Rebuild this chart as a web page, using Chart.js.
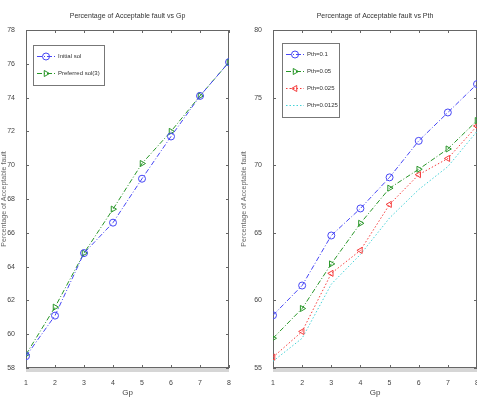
<!DOCTYPE html>
<html lang="en">
<head>
  <meta charset="UTF-8">
  <title>Percentage of Acceptable fault</title>
  <script src="https://cdn.jsdelivr.net/npm/chart.js@4"></script>
  <style>
    body { margin: 0; background: #fff; }
    .panel { position: absolute; top: 0; overflow: hidden; height: 406px; }
  </style>
</head>
<body>

<div class="panel" style="left:0; width:240px"><canvas id="gpChart" width="240" height="406"></canvas></div>
<div class="panel" style="left:240px; width:237px"><canvas id="pthChart" width="242" height="406"></canvas></div>

<script>
  // x positions (Gp) shared by both panels
  const gpValues = [1, 2, 3, 4, 5, 6, 7, 8];

  // left panel: acceptable fault vs Gp
  const initialSol = [58.7, 61.1, 64.8, 66.6, 69.2, 71.7, 74.1, 76.1];
  const preferredSol = [58.8, 61.6, 64.8, 67.4, 70.1, 72.0, 74.1, 76.1];

  // right panel: acceptable fault vs Pth
  const pth01 = [58.9, 61.1, 64.8, 66.8, 69.1, 71.8, 73.9, 76.0];
  const pth005 = [57.2, 59.4, 62.7, 65.7, 68.3, 69.7, 71.2, 73.3];
  const pth0025 = [55.8, 57.7, 62.0, 63.7, 67.1, 69.3, 70.5, 72.9];
  const pth00125 = [55.5, 57.2, 61.2, 63.4, 66.1, 68.2, 69.9, 72.5];

  const leftLabels = ['Initial sol', 'Preferred sol(3)'];
  const rightLabels = ['Pth=0.1', 'Pth=0.05', 'Pth=0.025', 'Pth=0.0125'];

  const FONT = 'Liberation Sans, Arial, sans-serif';

  function pts(ys) {
    return gpValues.map((x, i) => ({ x: x, y: ys[i] }));
  }

  const dashDot = [5, 2, 1, 2];
  const dotted = [1.5, 2];

  const styles = {
    blue:  { color: 'rgb(70,70,245)', dash: dashDot, pointStyle: 'circle', rot: 0, r: 3.5 },
    green: { color: 'rgb(40,150,40)', dash: dashDot, pointStyle: 'triangle', rot: 90, r: 3.5 },
    red:   { color: 'rgb(245,60,60)', dash: dotted, pointStyle: 'triangle', rot: -90, r: 3.5 },
    cyan:  { color: 'rgb(70,210,215)', dash: dotted, pointStyle: 'circle', rot: 0, r: 0 }
  };

  function makeSet(label, ys, st) {
    return {
      label: label,
      data: pts(ys),
      borderColor: st.color,
      backgroundColor: 'rgba(0,0,0,0)',
      borderWidth: 1,
      borderDash: st.dash,
      pointStyle: st.pointStyle,
      pointRotation: st.rot,
      pointRadius: st.r,
      pointBorderWidth: 1,
      pointBorderColor: st.color,
      pointBackgroundColor: 'rgba(0,0,0,0)',
      tension: 0
    };
  }

  // MATLAB-like box with inward ticks, gray strip under x axis, title, legend box
  const matlabBox = {
    id: 'matlabBox',
    beforeDatasetsDraw(chart) {
      const c = chart.ctx, a = chart.chartArea;
      c.save();
      c.fillStyle = '#d6d6d6';
      c.fillRect(a.left, a.bottom - 1, a.right - a.left, 5);
      c.strokeStyle = '#666';
      c.lineWidth = 1;
      c.strokeRect(a.left + 0.5, a.top + 0.5, a.right - a.left - 1, a.bottom - a.top - 1);
      const xs = chart.scales.x, ys = chart.scales.y;
      c.beginPath();
      xs.ticks.forEach(t => {
        const px = Math.round(xs.getPixelForValue(t.value)) + 0.5;
        c.moveTo(px, a.top); c.lineTo(px, a.top + 3);
        c.moveTo(px, a.bottom); c.lineTo(px, a.bottom - 3);
      });
      ys.ticks.forEach(t => {
        const py = Math.round(ys.getPixelForValue(t.value)) + 0.5;
        c.moveTo(a.left, py); c.lineTo(a.left + 3, py);
        c.moveTo(a.right, py); c.lineTo(a.right - 3, py);
      });
      c.stroke();
      c.restore();
    },
    afterDraw(chart, args, opts) {
      const c = chart.ctx, a = chart.chartArea;
      c.save();
      c.fillStyle = '#333';
      c.font = '7px ' + FONT;
      c.textAlign = 'center';
      c.textBaseline = 'middle';
      c.fillText(opts.title, (a.left + a.right) / 2, 16);

      // legend
      const lx = a.left + opts.lx, ly = a.top + opts.ly;
      const rowH = opts.rowH, w = opts.w;
      const h = rowH * chart.data.datasets.length + 6;
      c.fillStyle = '#fff';
      c.fillRect(lx, ly, w, h);
      c.strokeStyle = '#777';
      c.lineWidth = 1;
      c.strokeRect(lx + 0.5, ly + 0.5, w, h);
      chart.data.datasets.forEach((ds, i) => {
        const yy = ly + 3 + rowH * i + rowH / 2;
        c.strokeStyle = ds.borderColor;
        c.lineWidth = 1;
        c.setLineDash(ds.borderDash);
        c.beginPath();
        c.moveTo(lx + 4, yy); c.lineTo(lx + 22, yy);
        c.stroke();
        c.setLineDash([]);
        if (ds.pointRadius > 0) {
          c.fillStyle = 'rgba(0,0,0,0)';
          Chart.helpers.drawPoint(c, {
            pointStyle: ds.pointStyle, rotation: ds.pointRotation,
            radius: ds.pointRadius, borderWidth: 1
          }, lx + 13, yy);
        }
        c.fillStyle = '#333';
        c.textAlign = 'left';
        c.font = '6px ' + FONT;
        c.fillText(ds.label, lx + 25, yy);
      });
      c.restore();
    }
  };

  function makeChart(id, sets, yMin, yMax, yStep, yWidth, padRight, box) {
    const ctx = document.getElementById(id).getContext('2d');
    return new Chart(ctx, {
      type: 'line',
      data: { datasets: sets },
      options: {
        responsive: false,
        animation: false,
        events: [],
        layout: { padding: { top: 30, right: padRight, left: 0, bottom: 0 } },
        plugins: {
          legend: { display: false },
          tooltip: { enabled: false },
          matlabBox: box
        },
        scales: {
          x: {
            type: 'linear',
            min: 1, max: 8,
            border: { display: false },
            grid: { display: false },
            ticks: { stepSize: 1, color: '#444', font: { family: FONT, size: 7 }, padding: 3 },
            title: { display: true, text: 'Gp', color: '#444', font: { family: FONT, size: 8 }, padding: { top: 6, bottom: 8 } },
            afterFit(s) { s.height = 38; }
          },
          y: {
            min: yMin, max: yMax,
            border: { display: false },
            grid: { display: false },
            ticks: { stepSize: yStep, color: '#444', font: { family: FONT, size: 7 }, padding: 3 },
            title: { display: true, text: 'Percentage of Acceptable fault', color: '#666', font: { family: FONT, size: 7 }, padding: { top: 0, bottom: 0 } },
            afterFit(s) { s.width = yWidth; }
          }
        }
      },
      plugins: [matlabBox]
    });
  }

  makeChart('gpChart', [
    makeSet(leftLabels[0], initialSol, styles.blue),
    makeSet(leftLabels[1], preferredSol, styles.green)
  ], 58, 78, 2, 26, 11,
    { title: 'Percentage of Acceptable fault vs Gp', lx: 7, ly: 15, w: 71, rowH: 17 });

  makeChart('pthChart', [
    makeSet(rightLabels[0], pth01, styles.blue),
    makeSet(rightLabels[1], pth005, styles.green),
    makeSet(rightLabels[2], pth0025, styles.red),
    makeSet(rightLabels[3], pth00125, styles.cyan)
  ], 55, 80, 5, 33, 1,
    { title: 'Percentage of Acceptable fault vs Pth', lx: 9, ly: 13, w: 57, rowH: 17 });
</script>

</body>
</html>
